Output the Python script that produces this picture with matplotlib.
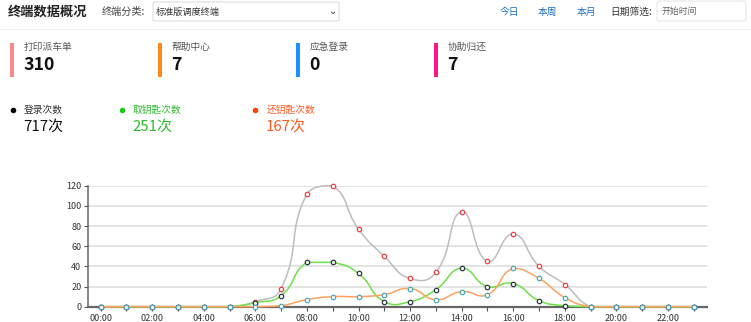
import numpy as np
import matplotlib
matplotlib.use('Agg')
import matplotlib.pyplot as plt
from matplotlib.path import Path
from matplotlib.patches import PathPatch, FancyBboxPatch, Rectangle

plt.rcParams['font.family'] = ['Noto Sans CJK SC', 'DejaVu Sans']

# 数据
hours = list(range(24))
hour_labels = [f'{h:02d}:00' for h in hours]
login = [0, 0, 0, 0, 0, 0, 5, 18, 112, 120, 77, 50, 28, 34, 94, 45, 72, 40, 22, 0, 0, 0, 0, 0]
take_key = [0, 0, 0, 0, 0, 0, 4, 11, 44, 44, 33, 5, 5, 17, 38, 20, 23, 6, 1, 0, 0, 0, 0, 0]
return_key = [0, 0, 0, 0, 0, 0, 0, 1, 7, 10, 10, 12, 18, 7, 15, 12, 38, 28, 9, 0, 0, 0, 0, 0]

card_names = ['打印派车单', '帮助中心', '应急登录', '协助归还']
card_values = ['310', '7', '0', '7']
card_colors = ['#f88a8a', '#ff8a1c', '#1e8fff', '#ff148c']

stat_names = ['登录次数', '取钥匙次数', '还钥匙次数']
stat_series = [login, take_key, return_key]
stat_colors = ['#111111', '#2dbb2d', '#ff5a1f']
stat_dots = ['#000000', '#11cc11', '#ff4000']

W, H = 751, 322
fig = plt.figure(figsize=(W / 100, H / 100), dpi=100)


def px(x, y):
    return x / W, 1 - y / H


def txt(x, y, s, **kw):
    kw.setdefault('va', 'center')
    fig.text(*px(x, y), s, **kw)


# 顶部
txt(8, 12, '终端数据概况', fontsize=9.5, fontweight='bold', color='#222222')
txt(102, 12, '终端分类:', fontsize=7.3, color='#444444')
fig.patches.append(FancyBboxPatch(px(153, 21), 186 / W, 19 / H, boxstyle='round,pad=0,rounding_size=0.004',
                                  transform=fig.transFigure, fc='white', ec='#dddddd', lw=0.8))
txt(156, 12, '标准版调度终端', fontsize=6.6, color='#333333')
txt(333, 11, '⌄', fontsize=7, color='#333333', ha='center', family='DejaVu Sans')
for x, s in zip([500, 538, 577], ['今日', '本周', '本月']):
    txt(x, 12, s, fontsize=7, color='#1f6fc0')
txt(610, 12, '日期筛选:', fontsize=7, color='#333333')
fig.patches.append(FancyBboxPatch(px(657, 21), 89 / W, 20 / H, boxstyle='round,pad=0,rounding_size=0.004',
                                  transform=fig.transFigure, fc='white', ec='#e6e6e6', lw=0.8))
txt(661, 11, '开始时间', fontsize=6.4, color='#666666')
fig.add_artist(plt.Line2D([0, 1], [1 - 29 / H] * 2, color='#f0f0f0', lw=0.8))

# 卡片
for x, name, val, c in zip([10, 157.7, 296, 434.3], card_names, card_values, card_colors):
    fig.patches.append(Rectangle(px(x, 76.7), 4 / W, 33.4 / H, transform=fig.transFigure, fc=c, ec='none'))
    txt(x + 13.5, 47.3, name, fontsize=7, color='#555555')
    txt(x + 13, 65, val, fontsize=12.8, fontweight='bold', color='#111111')

# 统计
for x, name, ser, c, dc in zip([12.7, 121.7, 255.5], stat_names, stat_series, stat_colors, stat_dots):
    fig.add_artist(plt.Line2D([x / W], [1 - 110 / H], marker='o', ms=4, mfc=dc, mec='none', ls='none'))
    txt(x + 10.8, 110, name, fontsize=7, color=c if c != '#111111' else '#333333')
    txt(x + 10.5, 127, f'{sum(ser)}次', fontsize=10.8, color=c)


# 平滑曲线
def smooth_path(xs, ys, sx=25.8, sy=1.0, smooth=0.5):
    pts = np.column_stack([np.asarray(xs, float) * sx, np.asarray(ys, float) * sy])
    lo, hi = pts.min(0), pts.max(0)
    n = len(pts)
    cps = []
    for i in range(n):
        p = pts[i]
        if i == 0 or i == n - 1:
            cps.append((p, p))
            continue
        v = (pts[i + 1] - pts[i - 1]) * smooth
        d0 = np.hypot(*(p - pts[i - 1]))
        d1 = np.hypot(*(p - pts[i + 1]))
        s = d0 + d1
        if s:
            d0, d1 = d0 / s, d1 / s
        cps.append((np.clip(p - v * d0, lo, hi), np.clip(p + v * d1, lo, hi)))
    verts = [pts[0]]
    codes = [Path.MOVETO]
    for i in range(n - 1):
        verts += [cps[i][1], cps[i + 1][0], pts[i + 1]]
        codes += [Path.CURVE4] * 3
    verts = np.array(verts) / [sx, sy]
    return Path(verts, codes)


ax = fig.add_axes([87.7 / W, 1 - 306.7 / H, 619 / W, 121 / H])
ax.set_xlim(-0.5, 23.5)
ax.set_ylim(0, 120)
ax.set_yticks(range(0, 121, 20))
ax.set_xticks(hours)
ax.set_xticklabels([l if h % 2 == 0 else '' for h, l in zip(hours, hour_labels)])
ax.grid(axis='y', color='#dddddd', lw=1.1)
ax.set_axisbelow(True)
for s in ['top', 'right']:
    ax.spines[s].set_visible(False)
ax.spines['bottom'].set_color('#666666')
ax.spines['bottom'].set_linewidth(1.6)
ax.spines['left'].set_color('#666666')
ax.spines['left'].set_linewidth(1.1)
ax.tick_params(axis='both', colors='#555555', labelcolor='#333333', labelsize=6.5, length=3, width=0.8, pad=1.5)
ax.tick_params(axis='x', pad=2)

series_style = [
    (login, '#bdbdbd', '#e04545'),
    (take_key, '#6ee04a', '#2f3748'),
    (return_key, '#ffa35c', '#4aa8b8'),
]
for z, (ys, lc, mc) in enumerate(series_style):
    ax.add_patch(PathPatch(smooth_path(hours, ys), fc='none', ec=lc, lw=1.1, zorder=3 + z, clip_on=False))
    ax.plot(hours, ys, ls='none', marker='o', ms=3.2, mfc='white', mec=mc, mew=0.9, zorder=3.5 + z, clip_on=False)

fig.savefig('out.png', dpi=100)
